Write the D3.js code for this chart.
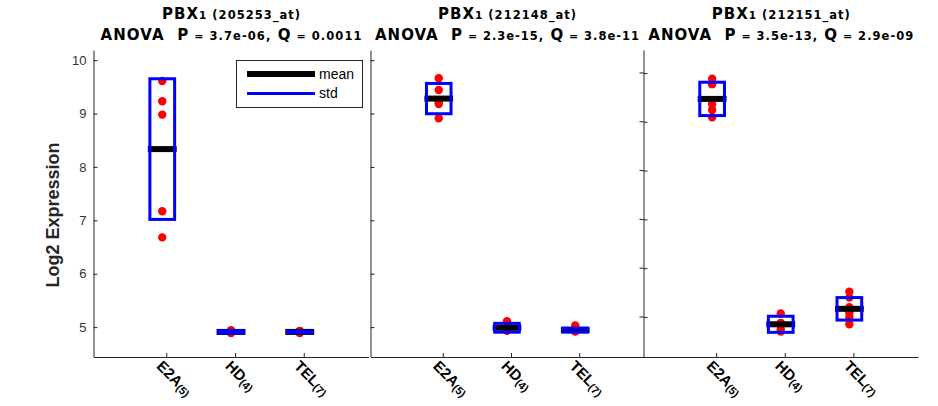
<!DOCTYPE html>
<html><head><meta charset="utf-8">
<script src="https://cdn.jsdelivr.net/npm/d3@7"></script>
<style>body{margin:0;background:#fff} text{white-space:pre}</style>
</head><body><svg id="c" width="938" height="406"></svg>
<script>
// ---- data ----
const categories = ["E2A", "HD", "TEL"];
const counts = ["5", "4", "7"];
const probes = ["205253_at", "212148_at", "212151_at"];
const pValues = ["3.7e-06", "2.3e-15", "3.5e-13"];
const qValues = ["0.0011", "3.8e-11", "2.9e-09"];
const yTicks = [5, 6, 7, 8, 9, 10];
const probe205253 = [
  [9.61, 9.23, 8.98, 7.17, 6.68],
  [4.94, 4.90, 4.89, 4.91],
  [4.93, 4.90, 4.89, 4.91, 4.92, 4.90, 4.92]
];
const probe212148 = [
  [9.66, 9.44, 9.21, 9.18, 8.91],
  [5.11, 4.96, 4.95, 4.93],
  [5.03, 4.94, 4.93, 4.92, 4.93, 4.92, 4.94]
];
const probe212151 = [
  [9.88, 9.77, 9.36, 9.24, 9.09],
  [5.07, 4.88, 4.75, 4.70],
  [5.52, 5.40, 5.20, 5.12, 5.08, 5.00, 4.85]
];

// ---- layout ----
const svg = d3.select("#c");
const plotTop = 50, plotBottom = 357;
const axisColor = "#262626";
const titleFont = "DejaVu Sans, Verdana, sans-serif";
const bodyFont = "Liberation Sans, Arial, sans-serif";
const panels = [
  {data: probe205253, x0: 93.5, x1: 368.5, yDom: [4.44, 10.19], labels: true, both: false, tl: 261},
  {data: probe212148, x0: 370.5, x1: 643.5, yDom: [4.44, 10.19], labels: false, both: false, tl: 264},
  {data: probe212151, x0: 643.5, x1: 918, yDom: [4.18, 10.47], labels: false, both: true, tl: 265}
];

panels.forEach((p, pi) => {
  const x = d3.scaleLinear().domain([0, 4]).range([p.x0, p.x1]);
  const y = d3.scaleLinear().domain(p.yDom).range([plotBottom, plotTop]);
  const g = svg.append("g");

  // y axis
  const ya = d3.axisLeft(y).tickValues(yTicks).tickSize(-4).tickSizeOuter(0).tickPadding(7)
    .tickFormat(p.labels ? d3.format("d") : "");
  const yg = g.append("g").attr("transform", `translate(${p.x0},0)`).call(ya);
  yg.select(".domain").attr("stroke", axisColor);
  yg.selectAll(".tick line").attr("stroke", axisColor);
  yg.selectAll(".tick text").attr("fill", "#333").style("font-family", bodyFont).style("font-size", "13px");
  if (p.both) {
    g.selectAll(".tl2").data(yTicks).enter().append("line")
      .attr("x1", p.x0 - 4).attr("x2", p.x0).attr("y1", d => y(d)).attr("y2", d => y(d))
      .attr("stroke", axisColor);
  }

  // x axis
  const xa = d3.axisBottom(x).tickValues([1, 2, 3]).tickSize(-4).tickSizeOuter(0).tickFormat("");
  const xg = g.append("g").attr("transform", `translate(0,${plotBottom})`).call(xa);
  xg.select(".domain").attr("stroke", axisColor);
  xg.selectAll(".tick").attr("transform", d => `translate(${x(d) + 4.5},0)`);
  xg.selectAll(".tick line").attr("stroke", axisColor);

  // category labels
  categories.forEach((c, i) => {
    const t = g.append("text")
      .attr("transform", `translate(${x(i + 1) + 4.5 - 11},367) rotate(45)`)
      .style("font-family", bodyFont).style("font-weight", "bold").attr("fill", "#000");
    t.append("tspan").style("font-size", "15px").text(c);
    t.append("tspan").style("font-size", "11px").attr("dy", 1.5).text("(" + counts[i] + ")");
  });

  // marks
  p.data.forEach((vals, i) => {
    const m = d3.mean(vals), s = d3.deviation(vals);
    g.selectAll(null).data(vals).enter().append("circle")
      .attr("cx", x(i + 1)).attr("cy", d => y(d)).attr("r", 4.2).attr("fill", "#ff0000");
    g.append("line").attr("x1", x(i + 1 - 0.21)).attr("x2", x(i + 1 + 0.21))
      .attr("y1", y(m)).attr("y2", y(m)).attr("stroke", "#000").attr("stroke-width", 6);
    g.append("rect").attr("x", x(i + 1 - 0.18)).attr("width", x(i + 1 + 0.18) - x(i + 1 - 0.18))
      .attr("y", y(m + s)).attr("height", y(m - s) - y(m + s))
      .attr("fill", "none").attr("stroke", "#0000ff").attr("stroke-width", 3);
  });

  // titles
  const cx = (p.x0 + p.x1) / 2;
  const t1 = g.append("text").attr("x", cx).attr("y", 19).attr("text-anchor", "middle")
    .attr("textLength", 138).attr("lengthAdjust", "spacing")
    .style("font-family", titleFont).style("font-weight", "bold");
  t1.append("tspan").style("font-size", "15px").text("PBX");
  t1.append("tspan").style("font-size", "10.5px").text("1");
  t1.append("tspan").style("font-size", "11.5px").text(" (" + probes[pi] + ")");
  const t2 = g.append("text").attr("x", cx).attr("y", 40).attr("text-anchor", "middle")
    .attr("textLength", p.tl).attr("lengthAdjust", "spacing")
    .style("font-family", titleFont).style("font-weight", "bold");
  t2.append("tspan").style("font-size", "15px").text("ANOVA  P");
  t2.append("tspan").style("font-size", "11px").text(" = ");
  t2.append("tspan").style("font-size", "11.5px").text(pValues[pi] + ",");
  t2.append("tspan").style("font-size", "15px").text(" Q");
  t2.append("tspan").style("font-size", "11px").text(" = ");
  t2.append("tspan").style("font-size", "11.5px").text(qValues[pi]);
});

// y label
svg.append("text").attr("transform", "translate(59,215) rotate(-90)").attr("text-anchor", "middle")
  .style("font-family", bodyFont).style("font-weight", "bold").style("font-size", "18px")
  .attr("fill", "#262626").text("Log2 Expression");

// legend
const leg = svg.append("g");
leg.append("rect").attr("x", 236.5).attr("y", 60.5).attr("width", 126).attr("height", 47)
  .attr("fill", "#fff").attr("stroke", axisColor);
const legendItems = [
  {label: "mean", color: "#000", w: 6, y: 74},
  {label: "std", color: "#0000ff", w: 3, y: 93.5}
];
legendItems.forEach(d => {
  leg.append("line").attr("x1", 247).attr("x2", 315).attr("y1", d.y).attr("y2", d.y)
    .attr("stroke", d.color).attr("stroke-width", d.w);
  leg.append("text").attr("x", 319).attr("y", d.y).attr("dy", "0.35em")
    .style("font-family", bodyFont).style("font-size", "14px").text(d.label);
});
</script></body></html>
